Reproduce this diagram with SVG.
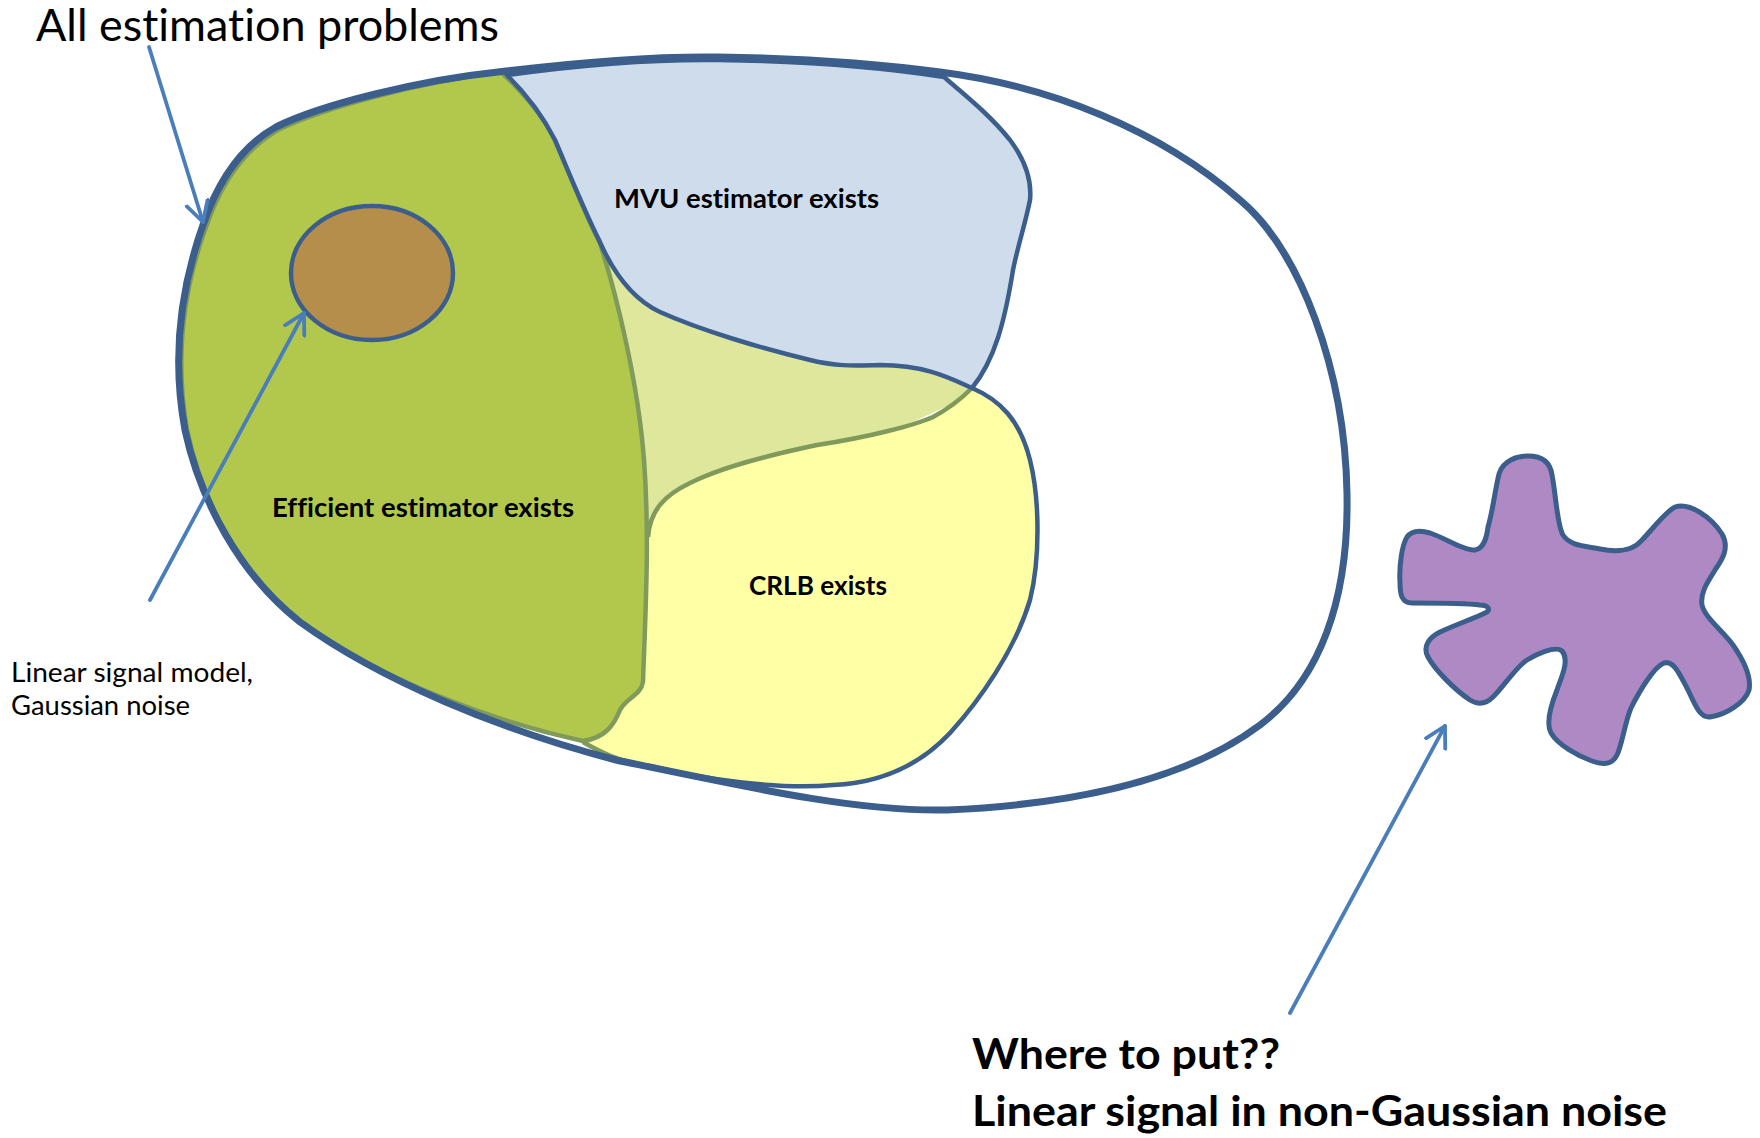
<svg xmlns="http://www.w3.org/2000/svg" width="1760" height="1138" viewBox="0 0 1760 1138">
<defs>
<style>
.lbl{font-family:Lato,"Open Sans","Liberation Sans",sans-serif;fill:#000;font-variant-ligatures:none;font-feature-settings:"liga" 0,"clig" 0}
.b{font-weight:bold}
.arrow{stroke:#4A7EBB;stroke-width:3.8;fill:none;stroke-linecap:round}
</style>
<marker id="vhead" viewBox="0 0 26 26" markerUnits="userSpaceOnUse" markerWidth="26" markerHeight="26" refX="21.4" refY="13" orient="auto">
<path d="M 1.5,2 L 21.4,13 L 1.5,24" fill="none" stroke="#4A7EBB" stroke-width="3.8" stroke-linecap="round" stroke-linejoin="round"/>
</marker>
</defs>
<rect width="1760" height="1138" fill="#fff"/>

<g id="all-problems-fill">
<path d="M 203,225 C 215,190 235,150 276,127 C 320,105 420,80 498,72 C 580,62 650,56 718,57 C 800,58 880,64 940,72 C 1050,86 1160,130 1240,200 C 1300,250 1345,370 1347,494 C 1349,600 1320,680 1260,725 C 1180,785 1060,805 947,810 C 860,812 760,790 616,760 C 500,730 380,680 300,622 C 240,575 200,500 185,430 C 172,360 180,290 203,225 Z" fill="#fff"/>
</g>

<g id="overlap">
<path d="M 597,238 L 972,388 L 960,400 L 650,545 Z" fill="#DEE79C"/>
</g>

<g id="crlb">
<path d="M 648,537 C 650,510 665,495 690,483 C 720,468 760,457 817,445 C 870,437 915,425 933,417 C 950,408 962,398 972,388 C 1000,400 1020,420 1030,460 C 1040,500 1040,560 1030,600 C 1015,650 980,700 950,733 C 920,765 880,783 833,785 C 780,790 700,779 650,766 C 620,762 600,752 583,742 L 613,723 L 642,683 Z" fill="#FFFFA5"/>
<path d="M 648,537 C 650,510 665,495 690,483 C 720,468 760,457 817,445 C 870,437 915,425 933,417 C 950,408 962,398 972,388" fill="none" stroke="#7F9A5A" stroke-width="4.5"/>
<path d="M 972,388 C 1000,400 1020,420 1030,460 C 1040,500 1040,560 1030,600 C 1015,650 980,700 950,733 C 920,765 880,783 833,785 C 780,790 700,779 650,766" fill="none" stroke="#3B5E8C" stroke-width="4.5"/>
<path d="M 650,766 C 620,762 600,752 583,742" fill="none" stroke="#7F9A5A" stroke-width="4.5"/>
<text class="lbl b" x="749" y="595" font-size="26" textLength="138" lengthAdjust="spacingAndGlyphs">CRLB exists</text>
</g>

<g id="efficient">
<path d="M 501,72 C 515,85 540,110 555,140 C 570,175 585,215 600,243 C 615,290 638,380 644,460 C 650,540 645,620 643,682 C 641,695 626,698 620,710 C 614,725 605,738 583,741 C 495,722 380,680 300,622 C 240,575 202,500 187,430 C 175,360 183,290 206,227 C 218,192 238,153 278,130 C 322,108 420,82 501,72 Z" fill="#B1C84C" stroke="#7F9A5A" stroke-width="4.5" stroke-linejoin="round"/>
<text class="lbl b" x="272" y="517" font-size="26" textLength="302" lengthAdjust="spacingAndGlyphs">Efficient estimator exists</text>
</g>

<g id="mvu">
<path d="M 507,75 C 580,65 650,59 718,60 C 800,61 880,67 944,77 C 965,95 990,115 1010,140 C 1025,160 1032,180 1030,200 C 1025,225 1018,245 1013,270 C 1005,320 995,360 972,388 C 950,378 925,365 880,365 C 850,366 835,366 810,360 C 760,348 700,330 660,312 C 630,298 612,270 599,240 C 585,212 570,175 555,140 C 540,110 520,88 507,75 Z" fill="#CFDCEB" stroke="#3B5E8C" stroke-width="4.5" stroke-linejoin="round"/>
<text class="lbl b" x="614" y="208" font-size="26" textLength="265" lengthAdjust="spacingAndGlyphs">MVU estimator exists</text>
</g>

<g id="linear-gaussian">
<ellipse cx="372" cy="273" rx="81" ry="67" fill="#B68E4B" stroke="#3B5E8C" stroke-width="4.5"/>
</g>

<g id="all-problems">
<path d="M 203,225 C 215,190 235,150 276,127 C 320,105 420,80 498,72 C 580,62 650,56 718,57 C 800,58 880,64 940,72 C 1050,86 1160,130 1240,200 C 1300,250 1345,370 1347,494 C 1349,600 1320,680 1260,725 C 1180,785 1060,805 947,810 C 860,812 760,790 616,760 C 500,730 380,680 300,622 C 240,575 200,500 185,430 C 172,360 180,290 203,225 Z" fill="none" stroke="#3B5E8C" stroke-width="7" stroke-linejoin="round"/>
</g>

<g id="non-gaussian">
<path d="M 1488,527 C 1493,510 1495,490 1499,474 C 1503,460 1518,456 1528,456 C 1540,456 1550,460 1552,475 C 1556,495 1557,525 1563,535 C 1570,546 1585,546 1600,549 C 1615,552 1632,552 1642,540 C 1652,530 1665,512 1675,507 C 1690,502 1712,518 1722,534 C 1730,548 1722,560 1715,570 C 1708,582 1700,592 1702,605 C 1705,618 1722,630 1733,645 C 1742,658 1752,675 1749,690 C 1745,703 1725,715 1710,717 C 1700,718 1695,705 1688,690 C 1680,675 1674,660 1664,663 C 1654,667 1640,690 1631,708 C 1625,722 1622,745 1617,755 C 1612,765 1603,765 1592,761 C 1578,756 1558,745 1551,733 C 1545,722 1553,700 1557,690 C 1561,678 1570,660 1562,651 C 1555,645 1535,655 1527,660 C 1516,667 1505,685 1493,697 C 1486,704 1478,705 1470,700 C 1455,690 1435,670 1428,657 C 1422,646 1430,637 1440,632 C 1455,625 1475,618 1485,613 C 1492,610 1488,605 1480,605 C 1465,603 1440,603 1412,603 C 1402,603 1400,595 1400,583 C 1399,565 1402,545 1407,537 C 1412,530 1420,530 1430,533 C 1445,538 1465,551 1475,550 C 1485,548 1487,535 1488,527 Z" fill="#AE89C4" stroke="#3B5E8C" stroke-width="5" stroke-linejoin="round"/>
</g>

<g id="connectors">
<line class="arrow" x1="149" y1="47" x2="203" y2="222" marker-end="url(#vhead)"/>
<line class="arrow" x1="150" y1="600" x2="304" y2="313" marker-end="url(#vhead)"/>
<line class="arrow" x1="1290" y1="1013" x2="1445" y2="726" marker-end="url(#vhead)"/>
</g>

<g id="labels">
<text class="lbl" x="36" y="41" font-size="44" textLength="463" lengthAdjust="spacingAndGlyphs">All estimation problems</text>
<text class="lbl" x="11" y="682" font-size="26" textLength="242" lengthAdjust="spacingAndGlyphs">Linear signal model,</text>
<text class="lbl" x="11" y="715" font-size="26" textLength="179" lengthAdjust="spacingAndGlyphs">Gaussian noise</text>
<text class="lbl b" x="972" y="1069" font-size="42" textLength="308" lengthAdjust="spacingAndGlyphs">Where to put??</text>
<text class="lbl b" x="972" y="1126" font-size="42" textLength="695" lengthAdjust="spacingAndGlyphs">Linear signal in non-Gaussian noise</text>
</g>
</svg>
